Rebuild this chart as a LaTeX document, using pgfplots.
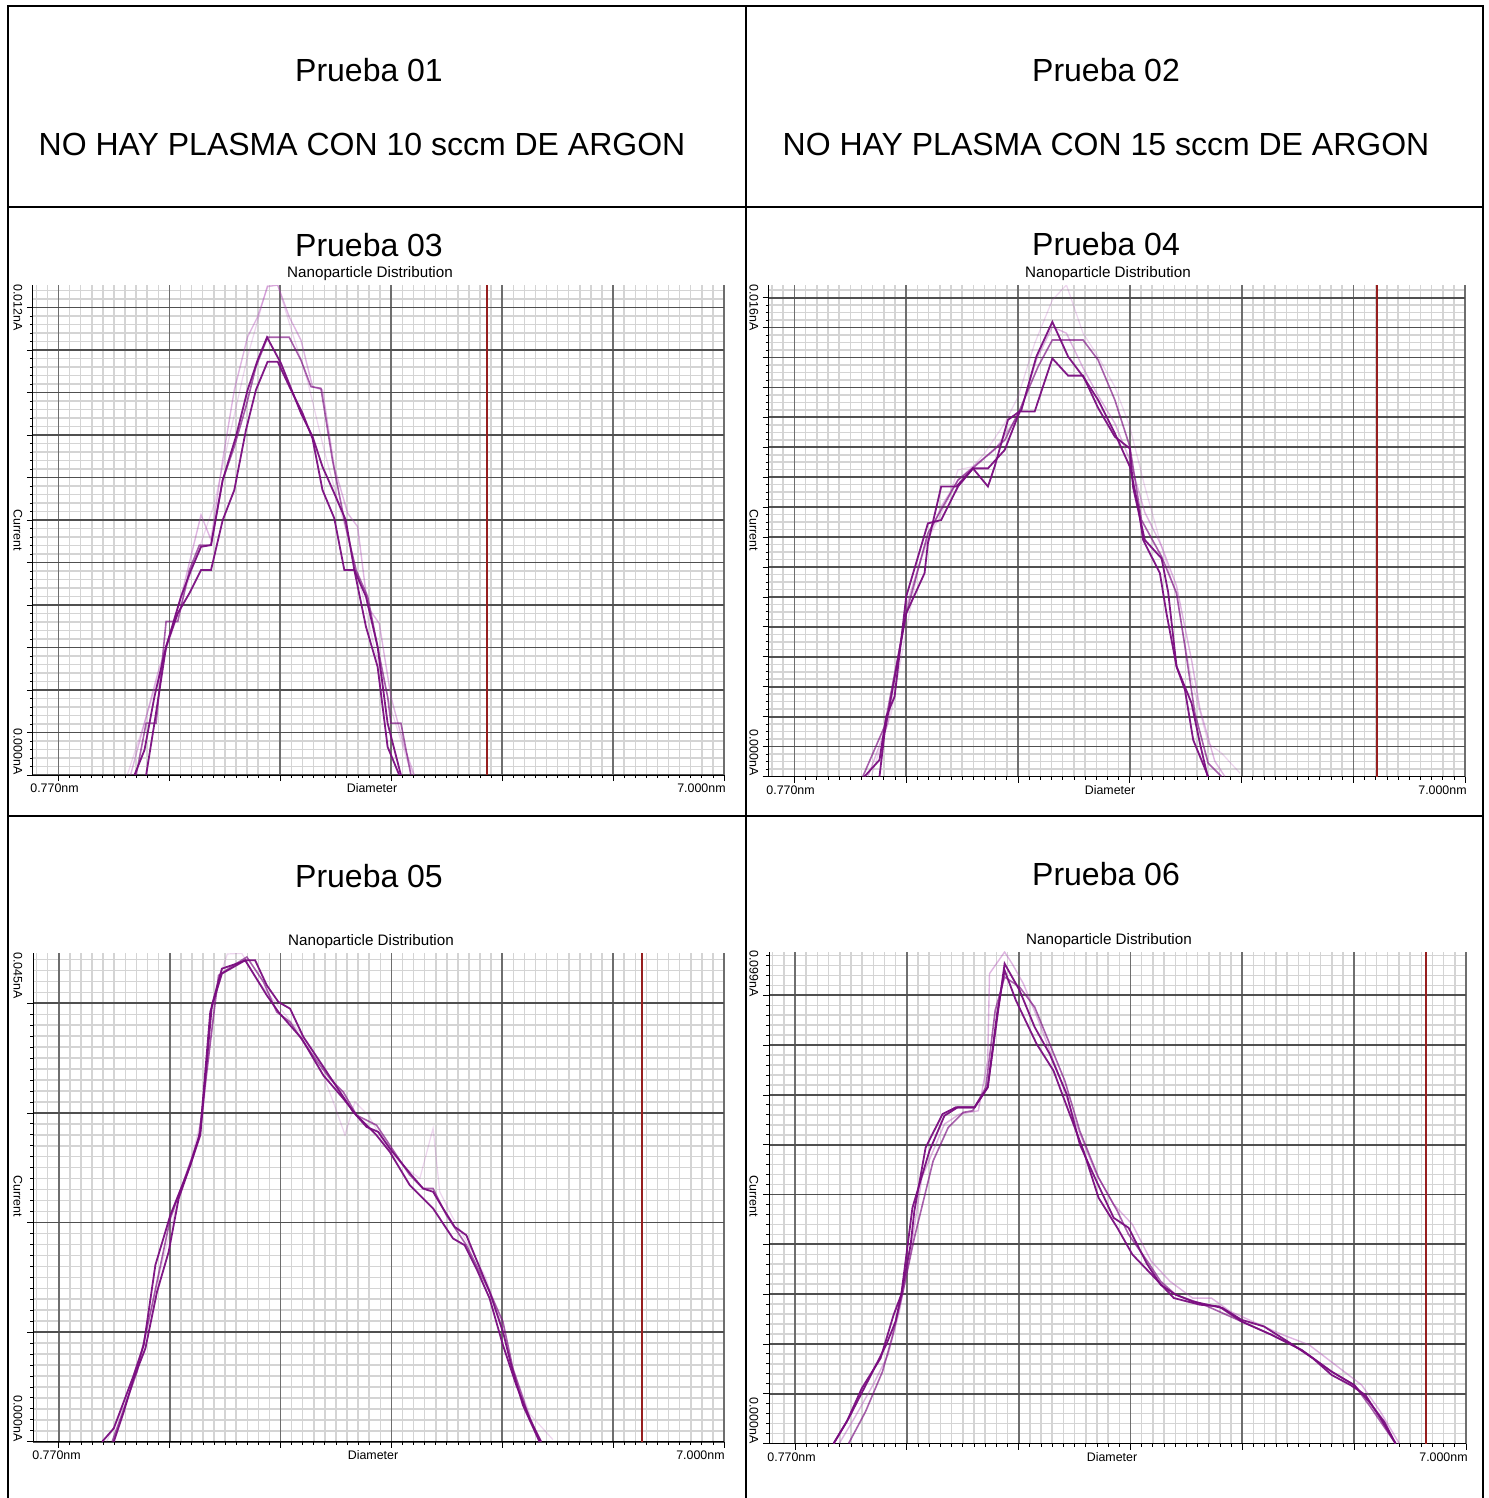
\documentclass[border=0pt]{standalone}
\usepackage{fontspec}
\setmainfont{Liberation Sans}
\usepackage{pgfplots}
\pgfplotsset{compat=1.18}
\definecolor{dpur}{RGB}{122,12,128}
\definecolor{lpur}{RGB}{175,70,182}
\definecolor{mgridx}{RGB}{110,110,110}
\definecolor{mgridy}{RGB}{80,80,80}
\definecolor{ngrid}{RGB}{212,212,212}
\definecolor{redl}{RGB}{150,30,30}
\newcommand{\pr}{\fontsize{16}{19}\selectfont}
\newcommand{\nd}{\fontsize{7.6}{9}\selectfont}
\newcommand{\ax}{\fontsize{6.2}{7.5}\selectfont}
\pgfplotsset{
base/.style={scale only axis, anchor=south west, xmin=0.77, xmax=7, ymin=0,
  xticklabels={}, yticklabels={}},
minorlayer/.style={base, grid=major, xtick={0.8,0.9,...,7.05},
  axis line style={draw=none}, tick style={draw=none},
  major grid style={ngrid, line width=0.75pt}},
nano/.style={base,
  axis lines*=left, axis line style={-,black,line width=0.5pt},
  xtick={1,2,3,4,5,6,7}, minor x tick num=9,
  grid=major,
  major x grid style={mgridx, line width=0.9pt},
  major y grid style={mgridy, line width=0.9pt},
  tick align=outside, major tick length=3pt, minor tick length=1.5pt,
  every tick/.style={black, line width=0.4pt}},
c3/.style={at={(16.5pt,-387.5pt)}, width=345.5pt, height=245pt, ymax=12},
c4/.style={at={(384.35pt,-388.25pt)}, width=348.25pt, height=245.75pt, ymax=16},
c5/.style={at={(16.65pt,-720.85pt)}, width=345.35pt, height=244.2pt, ymax=44.56},
c6/.style={at={(384.65pt,-721.75pt)}, width=348.35pt, height=245.75pt, ymax=98.7},
dk/.style={dpur, line width=0.9pt, opacity=0.95},
md/.style={dpur, line width=0.8pt, opacity=0.65},
ft/.style={lpur, line width=0.7pt, opacity=0.4},
ft2/.style={lpur, line width=0.6pt, opacity=0.22},
rl/.style={redl, line width=0.8pt}}
\begin{document}
\begin{tikzpicture}
\path[use as bounding box, fill=white] (0pt,0pt) rectangle (744pt,-749pt);
\begin{scope}[x=0.5pt,y=-0.5pt]
% table
\draw[line width=0.8pt] (8,1502) -- (8,6) -- (1483,6) -- (1483,1502);
\draw[line width=0.8pt] (746,6) -- (746,1502);
\draw[line width=0.8pt] (8,207) -- (1483,207);
\draw[line width=0.8pt] (8,816) -- (1483,816);
% texts
\node at (369,70) {\pr Prueba 01};
\node at (362,144) {\pr NO HAY PLASMA CON 10 sccm DE ARGON};
\node at (1106,70) {\pr Prueba 02};
\node at (1106,144) {\pr NO HAY PLASMA CON 15 sccm DE ARGON};
\node at (369,245) {\pr Prueba 03};
\node at (1106,244) {\pr Prueba 04};
\node at (369,876) {\pr Prueba 05};
\node at (1106,874) {\pr Prueba 06};
\node at (370,274) {\nd Nanoparticle Distribution};
\node at (1108,274) {\nd Nanoparticle Distribution};
\node at (371,942) {\nd Nanoparticle Distribution};
\node at (1109,941) {\nd Nanoparticle Distribution};
% axis labels
\node[anchor=west,inner sep=0] at (30,788) {\ax 0.770nm};
\node[inner sep=0] at (372,788) {\ax Diameter};
\node[anchor=east,inner sep=0] at (726,788) {\ax 7.000nm};
\node[anchor=west,inner sep=0] at (766,790) {\ax 0.770nm};
\node[inner sep=0] at (1110,790) {\ax Diameter};
\node[anchor=east,inner sep=0] at (1467,790) {\ax 7.000nm};
\node[anchor=west,inner sep=0] at (32,1455) {\ax 0.770nm};
\node[inner sep=0] at (373,1455) {\ax Diameter};
\node[anchor=east,inner sep=0] at (725,1455) {\ax 7.000nm};
\node[anchor=west,inner sep=0] at (767,1457) {\ax 0.770nm};
\node[inner sep=0] at (1112,1457) {\ax Diameter};
\node[anchor=east,inner sep=0] at (1468,1457) {\ax 7.000nm};
\node[rotate=-90,anchor=west,inner sep=0] at (18,284) {\ax 0.012nA};
\node[rotate=-90,inner sep=0] at (18,530) {\ax Current};
\node[rotate=-90,anchor=east,inner sep=0] at (18,775) {\ax 0.000nA};
\node[rotate=-90,anchor=west,inner sep=0] at (754,284) {\ax 0.016nA};
\node[rotate=-90,inner sep=0] at (754,530) {\ax Current};
\node[rotate=-90,anchor=east,inner sep=0] at (754,776) {\ax 0.000nA};
\node[rotate=-90,anchor=west,inner sep=0] at (18,952) {\ax 0.045nA};
\node[rotate=-90,inner sep=0] at (18,1196) {\ax Current};
\node[rotate=-90,anchor=east,inner sep=0] at (18,1442) {\ax 0.000nA};
\node[rotate=-90,anchor=west,inner sep=0] at (754,950) {\ax 0.099nA};
\node[rotate=-90,inner sep=0] at (754,1196) {\ax Current};
\node[rotate=-90,anchor=east,inner sep=0] at (754,1444) {\ax 0.000nA};
\end{scope}
% ---------- Prueba 03
\begin{axis}[minorlayer, c3, ytick distance=0.20816]
\end{axis}
\begin{axis}[nano, c3, ytick={0,1.0408,2.0816,3.1224,4.1632,5.204,6.2448,7.2856,8.3264,9.3672,10.408,11.4488}, minor y tick num=4]
\addplot[rl] coordinates {(4.863,0) (4.863,12)};
\addplot[ft2] coordinates {(1.62,0) (1.8,1.5) (2.0,3.3) (2.2,5.0) (2.4,6.6) (2.55,8.4) (2.7,10.2) (2.885,12.0) (2.976,12.0) (3.1,10.9) (3.25,9.6) (3.4,7.9) (3.55,6.4) (3.7,4.9) (3.85,3.1) (4.0,1.6) (4.15,0.3) (4.2,0)};
\addplot[ft] coordinates {(1.65,0) (1.775,1.27) (1.895,2.49) (2.015,3.55) (2.12,4.53) (2.285,6.37) (2.375,5.76) (2.48,7.71) (2.585,9.43) (2.705,10.73) (2.795,11.22) (2.885,11.96) (2.976,12.0) (3.08,11.22) (3.186,10.65) (3.29,9.51) (3.38,9.43) (3.486,7.55) (3.607,6.41) (3.697,6.08) (3.787,4.12) (3.892,3.71) (3.997,1.92) (4.117,0.69) (4.207,0)};
\addplot[md] coordinates {(1.7,0) (1.79,1.27) (1.88,1.27) (1.97,3.76) (2.075,3.76) (2.18,5.02) (2.27,5.63) (2.375,5.63) (2.48,7.22) (2.585,8.04) (2.69,9.02) (2.78,10.0) (2.885,10.72) (3.08,10.72) (3.186,10.16) (3.276,9.51) (3.366,9.47) (3.47,7.71) (3.577,6.24) (3.682,5.02) (3.787,4.37) (3.877,3.14) (3.967,1.92) (3.997,1.27) (4.087,1.27) (4.177,0)};
\addplot[dk] coordinates {(1.685,0) (1.775,0.61) (1.865,1.92) (1.97,3.14) (2.105,4.37) (2.195,5.02) (2.285,5.59) (2.375,5.63) (2.48,7.22) (2.6,8.29) (2.705,9.43) (2.795,10.16) (2.88,10.72) (3.006,10.08) (3.186,8.86) (3.29,8.29) (3.38,7.55) (3.486,6.9) (3.59,6.24) (3.667,5.02) (3.772,4.37) (3.877,3.14) (3.967,1.27) (4.087,0)};
\addplot[dk] coordinates {(1.79,0) (1.865,1.27) (1.97,3.14) (2.075,3.96) (2.18,4.45) (2.285,5.02) (2.375,5.02) (2.48,6.24) (2.585,6.98) (2.69,8.45) (2.78,9.43) (2.885,10.12) (2.976,10.12) (3.096,9.43) (3.2,8.86) (3.29,8.24) (3.38,6.98) (3.486,6.29) (3.577,5.02) (3.667,5.02) (3.772,3.63) (3.877,2.65) (3.967,0.69) (4.072,0)};
\end{axis}
% ---------- Prueba 04
\begin{axis}[minorlayer, c4, ytick distance=0.243575]
\end{axis}
\begin{axis}[nano, c4, ytick distance=0.9743, minor y tick num=3]
\addplot[rl] coordinates {(6.21,0) (6.21,16)};
\addplot[ft2] coordinates {(1.687,0) (1.866,2.06) (2.0,4.77) (2.104,6.72) (2.194,7.7) (2.373,9.0) (2.463,9.98) (2.597,10.09) (2.701,10.52) (2.881,11.5) (3.0,12.36) (3.149,14.1) (3.307,15.51) (3.433,16.0) (3.582,14.43) (3.716,13.67) (3.866,12.69) (4.0,11.39) (4.134,9.44) (4.284,7.48) (4.418,5.86) (4.552,3.15) (4.701,1.08) (4.821,0.76) (4.985,0.11)};
\addplot[ft] coordinates {(1.657,0) (1.836,1.74) (2.0,5.53) (2.164,7.48) (2.313,8.79) (2.463,9.65) (2.597,10.09) (2.791,10.63) (3.015,11.82) (3.164,13.56) (3.307,14.64) (3.433,14.43) (3.582,13.3) (3.716,12.4) (3.866,11.5) (4.0,10.3) (4.134,8.6) (4.284,7.5) (4.418,6.2) (4.552,3.8) (4.627,2.2) (4.76,0.5) (4.85,0)};
\addplot[md] coordinates {(1.612,0) (1.806,1.63) (2.0,5.31) (2.194,7.92) (2.463,9.65) (2.612,10.09) (2.881,10.95) (3.015,11.93) (3.179,13.34) (3.307,14.21) (3.448,14.21) (3.582,14.21) (3.716,13.56) (3.866,12.26) (4.0,10.74) (4.104,8.35) (4.284,7.16) (4.418,5.97) (4.493,4.23) (4.582,2.06) (4.701,0.43) (4.821,0)};
\addplot[dk] coordinates {(1.627,0) (1.761,0.54) (1.821,1.95) (1.896,2.6) (2.0,5.86) (2.194,8.24) (2.313,8.35) (2.463,9.44) (2.597,10.03) (2.731,9.44) (2.791,10.09) (2.91,11.61) (3.03,11.93) (3.164,13.67) (3.307,14.8) (3.448,13.67) (3.582,13.02) (3.716,12.26) (3.866,11.17) (4.0,10.09) (4.075,8.79) (4.119,7.7) (4.269,6.62) (4.328,5.31) (4.418,3.58) (4.493,2.82) (4.567,1.19) (4.701,0)};
\addplot[dk] coordinates {(1.761,0) (1.806,1.41) (2.0,5.31) (2.164,6.62) (2.194,7.59) (2.313,9.44) (2.448,9.44) (2.597,10.03) (2.731,10.03) (2.881,10.63) (3.015,11.88) (3.149,11.88) (3.307,13.61) (3.448,13.05) (3.582,13.05) (3.716,12.0) (3.866,11.06) (4.0,10.68) (4.03,9.4) (4.134,7.7) (4.284,7.1) (4.343,6.0) (4.418,3.58) (4.552,2.39) (4.627,1.08) (4.696,0)};
\end{axis}
% ---------- Prueba 05
\begin{axis}[minorlayer, c5, ytick distance=1]
\end{axis}
\begin{axis}[nano, c5, ytick distance=10, minor y tick num=9]
\addplot[rl] coordinates {(6.26,0) (6.26,44.56)};
\addplot[ft2] coordinates {(1.43,0) (1.6,3.5) (1.75,8.0) (1.9,15.0) (2.05,21.0) (2.2,26.0) (2.3,30.0) (2.42,41.5) (2.52,44.5) (2.65,44.56) (2.8,42.0) (3.0,39.5) (3.2,37.0) (3.386,33.4) (3.476,31.0) (3.581,28.0) (3.671,31.0) (3.791,29.8) (3.95,27.0) (4.1,25.2) (4.256,24.0) (4.376,28.6) (4.436,22.8) (4.55,20.5) (4.7,17.9) (4.85,15.0) (5.0,10.5) (5.1,6.5) (5.25,2.5) (5.456,0.2)};
\addplot[md] coordinates {(1.481,0) (1.706,6.38) (1.841,12.46) (2.006,20.36) (2.156,24.62) (2.261,27.66) (2.441,42.55) (2.576,43.47) (2.696,44.22) (2.846,41.95) (2.966,39.21) (3.086,38.3) (3.206,36.47) (3.356,34.35) (3.446,33.13) (3.566,31.91) (3.686,29.79) (3.866,28.88) (3.986,27.05) (4.166,24.32) (4.286,23.1) (4.376,23.1) (4.496,20.67) (4.676,17.93) (4.766,16.11) (4.886,13.68) (5.006,10.94) (5.096,6.69) (5.216,3.04) (5.336,0)};
\addplot[dk] coordinates {(1.391,0) (1.496,1.22) (1.676,6.08) (1.766,8.81) (1.871,16.11) (2.006,20.67) (2.186,25.23) (2.276,28.27) (2.366,39.21) (2.471,42.71) (2.681,43.92) (2.876,40.73) (2.981,39.21) (3.191,36.78) (3.386,33.43) (3.566,31.31) (3.686,29.79) (3.866,27.96) (3.986,26.44) (4.166,23.4) (4.376,21.28) (4.556,18.54) (4.661,17.93) (4.766,15.81) (4.886,13.07) (5.006,8.81) (5.126,5.17) (5.246,2.13) (5.351,0)};
\addplot[dk] coordinates {(1.496,0) (1.586,2.74) (1.676,5.78) (1.781,8.51) (1.886,13.68) (1.991,17.33) (2.081,22.19) (2.186,25.23) (2.276,27.96) (2.381,39.82) (2.471,43.16) (2.606,43.62) (2.681,43.92) (2.771,43.92) (2.876,41.64) (2.981,40.12) (3.086,39.51) (3.206,36.93) (3.356,34.66) (3.476,32.83) (3.656,30.09) (3.776,28.72) (3.881,28.27) (3.986,26.75) (4.181,24.32) (4.286,23.1) (4.376,22.8) (4.466,21.28) (4.571,19.6) (4.676,18.84) (4.781,16.26) (4.886,13.68) (5.006,10.03) (5.081,6.99) (5.186,3.34) (5.336,0)};
\end{axis}
% ---------- Prueba 06
\begin{axis}[minorlayer, c6, ytick distance=2]
\end{axis}
\begin{axis}[nano, c6, ytick distance=10, minor y tick num=4]
\addplot[rl] coordinates {(6.644,0) (6.644,98.7)};
\addplot[ft] coordinates {(1.395,0) (1.529,5.04) (1.697,11.75) (1.832,17.8) (1.933,26.53) (2.034,38.62) (2.134,53.39) (2.235,58.76) (2.336,64.14) (2.471,66.15) (2.639,66.82) (2.723,76.9) (2.739,94.36) (2.874,98.7) (2.941,96.37) (3.042,92.34) (3.176,84.96) (3.345,74.88) (3.513,64.14) (3.681,54.73) (3.849,48.02) (4.017,43.99) (4.185,36.6) (4.353,32.57) (4.555,29.21) (4.723,29.21) (4.891,26.53) (5.092,24.51) (5.361,21.83) (5.597,19.81) (5.832,15.78) (6.067,11.75) (6.235,6.38) (6.403,0)};
\addplot[md] coordinates {(1.479,0) (1.630,6.38) (1.782,14.44) (1.866,21.16) (1.966,30.56) (2.067,41.3) (2.235,56.75) (2.370,63.47) (2.504,66.49) (2.588,66.82) (2.706,71.52) (2.790,86.97) (2.874,93.69) (3.008,91.67) (3.143,87.64) (3.277,80.26) (3.412,72.87) (3.546,62.79) (3.714,53.39) (3.882,46.68) (3.983,41.97) (4.151,36.6) (4.269,32.57) (4.403,29.89) (4.655,27.87) (4.992,24.51) (5.261,21.83) (5.529,18.8) (5.798,14.44) (6.0,11.75) (6.134,7.72) (6.370,0)};
\addplot[dk] coordinates {(1.345,0) (1.462,4.37) (1.597,11.08) (1.765,17.13) (1.882,25.86) (1.950,29.89) (2.0,38.62) (2.050,47.35) (2.202,58.76) (2.336,65.82) (2.454,67.5) (2.605,67.5) (2.723,71.52) (2.807,86.3) (2.874,95.03) (2.975,88.99) (3.160,80.26) (3.311,74.88) (3.445,66.82) (3.580,58.76) (3.714,49.36) (3.882,43.32) (4.017,37.95) (4.218,33.24) (4.387,29.21) (4.622,27.87) (4.790,27.54) (4.992,24.51) (5.261,21.83) (5.529,18.8) (5.798,14.44) (6.0,11.75) (6.134,8.39) (6.269,4.37) (6.370,0)};
\addplot[dk] coordinates {(1.345,0) (1.479,5.04) (1.664,13.1) (1.815,19.81) (1.899,24.51) (1.950,29.89) (2.034,39.96) (2.067,46.68) (2.168,59.44) (2.319,66.15) (2.437,67.5) (2.605,67.5) (2.723,71.52) (2.874,96.37) (3.008,91.0) (3.143,83.61) (3.277,78.24) (3.429,70.18) (3.546,60.11) (3.681,53.39) (3.849,45.33) (3.983,43.32) (4.151,35.93) (4.269,31.9) (4.403,29.89) (4.555,28.54) (4.824,27.2) (4.992,24.85) (5.193,23.51) (5.429,20.15) (5.630,17.13) (5.798,13.77) (5.966,11.75) (6.101,9.74) (6.235,5.04) (6.370,0)};
\end{axis}
\end{tikzpicture}
\end{document}
